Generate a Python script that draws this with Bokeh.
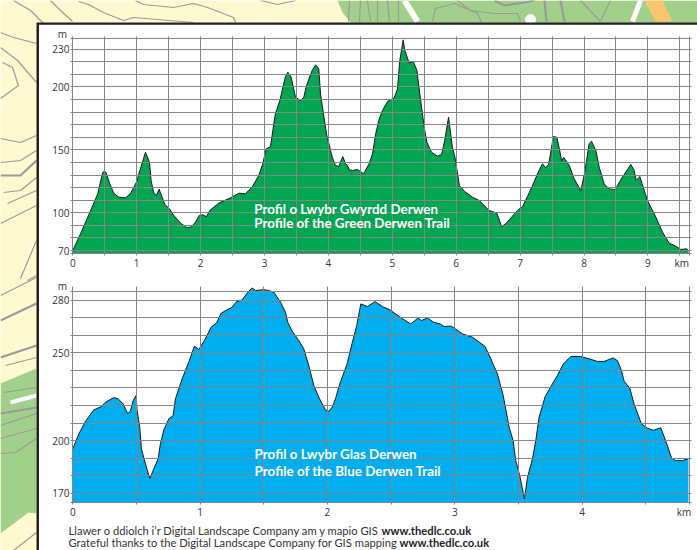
from bokeh.plotting import figure
from bokeh.layouts import column
from bokeh.models import Range1d, FixedTicker, Label
from bokeh.core.properties import value
from bokeh.embed import file_html
from bokeh.resources import INLINE

# ---- data: green trail profile
green_km = [0,.12,.235,.39,.45,.475,.516,.58,.64,.72,.824,.90,.996,1.05,1.137,1.2,1.225,1.268,1.31,1.35,1.388,1.44,1.513,1.58,1.685,1.78,1.85,1.92,1.98,2.04,2.09,2.144,2.285,2.467,2.6,2.70,2.806,2.91,2.973,3.026,3.093,3.17,3.24,3.328,3.365,3.417,3.485,3.563,3.615,3.657,3.745,3.80,3.85,3.876,3.97,4.06,4.11,4.163,4.225,4.267,4.30,4.324,4.376,4.455,4.55,4.637,4.69,4.74,4.795,4.846,4.925,5.03,5.08,5.117,5.17,5.196,5.264,5.33,5.385,5.437,5.5,5.54,5.613,5.707,5.77,5.82,5.88,5.94,5.98,6.05,6.125,6.255,6.36,6.515,6.635,6.71,6.775,6.96,7.04,7.17,7.3,7.35,7.4,7.445,7.48,7.52,7.575,7.62,7.65,7.68,7.77,7.845,7.95,8.012,8.08,8.117,8.185,8.238,8.315,8.393,8.487,8.6,8.733,8.785,8.816,8.873,8.993,9.124,9.228,9.333,9.437,9.515,9.61,9.636]
green_m = [70.1,83.3,96.6,115,128.3,132.5,132.5,123,115.6,112.4,111.9,115,124.3,133.6,148.1,140.2,125.7,115.6,113.8,118.8,113.8,106.6,103.2,97.9,91.8,88.4,88.6,92.6,97.9,98.4,96.8,101.9,107.7,111.9,115.6,115.1,120.4,129.6,138.9,150.8,152.6,178.6,189.2,208.2,211.6,207.7,191.8,189.2,191.8,201,213,217.5,214.3,194.4,162.7,144.2,137.6,136.8,144.7,138.9,137.6,134.1,133.6,134.4,131,138.9,146.8,162.7,174.6,181.2,188.4,191.3,198.4,220.9,237.3,228.8,219,220.1,213,191.8,168,156.1,148.1,145,146.3,157.4,175.9,152.1,144.2,121.7,117.2,112.4,109.8,101.9,99.7,89.2,91.3,101.9,105,119,134.1,138.9,135.7,138.4,148.1,160.6,160,149.5,141,144.2,137.6,127,117.7,132.3,154.8,156.9,149.5,136.2,123,119,118.5,128.3,138.4,133.6,125.7,128.8,109.8,96.6,84.7,75.9,73.5,70.9,71.4,69.6]
green_yticks = [70,100,150,200,230]
green_xticks = [0,1,2,3,4,5,6,7,8,9]
green_title = ["Profil o Lwybr Gwyrdd Derwen","Profile of the Green Derwen Trail"]

# ---- data: blue trail profile
blue_km = [0,.047,.1,.165,.225,.257,.322,.356,.395,.432,.453,.474,.497,.505,.526,.539,.571,.605,.636,.67,.688,.715,.754,.788,.806,.859,.911,.955,.99,1.034,1.086,1.128,1.165,1.212,1.251,1.283,1.33,1.382,1.408,1.435,1.5,1.539,1.579,1.631,1.67,1.688,1.723,1.775,1.814,1.853,1.893,1.932,1.984,2.01,2.037,2.063,2.097,2.154,2.196,2.23,2.262,2.314,2.374,2.432,2.49,2.589,2.654,2.712,2.738,2.785,2.833,2.885,2.916,2.974,3.06,3.139,3.236,3.283,3.335,3.38,3.427,3.458,3.479,3.513,3.547,3.571,3.61,3.636,3.662,3.71,3.759,3.806,3.853,3.91,3.989,4.055,4.12,4.172,4.243,4.277,4.309,4.33,4.374,4.408,4.466,4.513,4.56,4.618,4.665,4.702,4.736,4.788,4.835]
blue_m = [195.3,203.8,211,217.5,219.4,221.9,224.5,223.8,220.9,215.2,217.1,222.8,225.7,217.1,207.6,195.3,186.7,178.2,183.9,189.6,198.1,206.1,212.4,214.3,223.8,235.2,244.7,253.8,251.9,257,264.6,266.9,272.6,274.5,276,279,280.2,285.1,287,285.5,286,285.5,284.6,278.9,273.2,267.5,262.3,257,252.3,242.8,231.4,224.7,217.5,216.6,219,223.8,232.3,243.7,256.1,265.6,277.9,276.4,279.2,276.4,274.5,269.4,266.5,269.9,268.4,269.9,267.5,266.5,265,265.2,260.8,258.9,253.8,246.6,238,225.7,207.6,200,188.6,179.1,166.8,179.1,189.6,200,213.3,225.1,231.4,237.1,243.7,247.9,247.9,246.6,245.1,245.1,247.1,245.6,239.9,233.8,230,220.9,209.5,207.1,205.9,207.3,198.1,190.2,188.6,188.6,189.8]
blue_yticks = [170,200,250,280]
blue_xticks = [0,1,2,3,4]
blue_title = ["Profil o Lwybr Glas Derwen","Profile of the Blue Derwen Trail"]

note_lines = ["Llawer o ddiolch i\u2019r Digital Landscape Company am y mapio GIS ",
              "Grateful thanks to the Digital Landscape Company for GIS mapping "]
note_link = "www.thedlc.co.uk"

# ---- background map (decorative, page pixels)
CREAM, MAPGREEN, CONTOUR = "#FFF9CF", "#A0D08A", "#9a9a9a"
thin = [
 [(13,0),(30,10),(43,23)], [(50,0),(60,10),(72,21)],
 [(78,1),(88,4),(103,12),(123,20),(133,17),(157,19),(193,22)],
 [(135,0),(143,4),(173,7),(193,3),(207,7),(233,17),(235,22)],
 [(260,0),(277,4),(295,0)],
 [(0,32),(13,37),(36,43)], [(0,47),(17,60),(36,82)], [(2,62),(12,67),(18,85),(0,98)],
 [(0,138),(20,142),(36,135)], [(0,162),(20,160),(36,150)], [(3,192),(20,190),(36,177)],
 [(7,203),(36,190)], [(0,223),(36,205)], [(20,278),(36,240)], [(27,280),(36,275)],
 [(0,295),(36,277)], [(5,365),(36,357)], [(3,392),(36,387)], [(0,425),(36,413)],
 [(0,438),(36,428)], [(0,453),(15,452),(36,438)], [(13,550),(36,532)],
 [(349,0),(348,21)], [(360,0),(359,21)], [(367,0),(370,21)], [(377,0),(377,21)], [(387,0),(389,21)], [(398,0),(398,21)],
 [(432,21),(435,8),(454,3),(477,13),(481,22)],
 [(457,0),(470,10),(494,13),(517,13),(520,21)],
 [(580,0),(600,21)], [(600,21),(610,0)],
]
thick = [
 [(0,175),(20,175),(36,160)], [(0,320),(36,303)], [(0,357),(36,345)], [(0,413),(36,407)],
 [(494,0),(504,5),(524,2),(534,0)], [(544,0),(546,21)], [(560,0),(564,21)],
]
green_zones = [
 [(337,0),(697,0),(697,23),(351,23),(342,12)],
 [(0,383),(36,368),(36,513),(28,512),(0,533)],
]

W, H = 697, 550
LABEL = "#333333"
bg = figure(width=W, height=H, x_range=Range1d(0, 697), y_range=Range1d(550, 0), min_border=0,
            toolbar_location=None, output_backend="svg", background_fill_color=CREAM,
            border_fill_color=None, outline_line_color=None, frame_align=False)
bg.axis.visible = False
bg.grid.visible = False
bg.patches([[p[0] for p in z] for z in green_zones], [[p[1] for p in z] for z in green_zones],
           fill_color=MAPGREEN, line_color=None)
bg.multi_line([[p[0] for p in l] for l in thin], [[p[1] for p in l] for l in thin], line_color=CONTOUR, line_width=1.2)
bg.multi_line([[p[0] for p in l] for l in thick], [[p[1] for p in l] for l in thick], line_color=CONTOUR, line_width=2.2)
bg.patch([644,662,672,655], [0,0,21,21], fill_color="#FBC46F", line_color=None)
bg.line([404,417], [0,21], line_color="white", line_width=6)
bg.line([640,632], [0,21], line_color="white", line_width=5)
bg.line([10,36], [402,395], line_color="white", line_width=4)
bg.scatter([530], [19], size=10, color="white")
bg.quad(left=[36], right=[700], top=[22], bottom=[560], fill_color="#222222", line_color=None)
bg.quad(left=[38.5], right=[700], top=[24.3], bottom=[560], fill_color="white", line_color=None)

NOTE_FONT = "Lato"
for y, txt, xl, in zip([530, 542], note_lines, [381, 399]):
    bg.text([68], [y], text=[txt], text_font=value(NOTE_FONT), text_font_size="11.2px",
            text_color="#333333", text_baseline="middle")
    bg.text([xl], [y], text=[note_link], text_font=value(NOTE_FONT), text_font_size="11.2px",
            text_font_style="bold", text_color="#222222", text_baseline="middle")
bg.text([62, 62], [33, 285], text=["m", "m"], text_font=value("Open Sans"), text_font_size="10px",
        text_color=LABEL, text_align="center", text_baseline="middle")

GRID = "#858585"

def chart(km, m, color, xr, yr, base, xedge, yedge, xticks, kmx, yticks, half, title, tx, ty, height, btop, bbot, mtop):
    p = figure(width=W, height=height, x_range=Range1d(*xr), y_range=Range1d(*yr),
               min_border_left=70, min_border_right=6, min_border_top=btop, min_border_bottom=bbot,
               toolbar_location=None, output_backend="svg", background_fill_color=None,
               border_fill_color=None, outline_line_color=None, margin=(mtop, 0, 0, 0), frame_align=False)
    p.varea(km, y1=[base]*len(km), y2=m, fill_color=color)
    p.line(km, m, line_color="#1a1a1a", line_width=1)
    for ax, ticks in ((p.xaxis[0], xticks + [kmx]), (p.yaxis[0], yticks)):
        ax.ticker = FixedTicker(ticks=ticks)
        ax.axis_line_color = None
        ax.major_tick_line_color = None
        ax.minor_tick_line_color = None
        ax.major_tick_out = 0
        ax.major_tick_in = 0
        ax.minor_tick_out = 0
        ax.major_label_text_font = "Open Sans"
        ax.major_label_text_font_size = "10px"
        ax.major_label_text_color = LABEL
    p.xaxis[0].major_label_overrides = {kmx: "km"}
    p.xaxis[0].major_label_standoff = 0
    p.yaxis[0].major_label_standoff = 1
    p.xgrid.ticker = FixedTicker(ticks=half + [xedge])
    p.xgrid.bounds = (base, yedge)
    p.ygrid.ticker = FixedTicker(ticks=[base] + list(range(yticks[0], yticks[-1] + 1, 10)) + [yedge])
    p.ygrid.bounds = (0, xedge)
    for g in (p.xgrid, p.ygrid):
        g.grid_line_color = GRID
        g.grid_line_width = 1
        g.level = "guide"
    for t, x, y in zip(title, tx, ty):
        p.add_layout(Label(x=x, y=y, text=t, text_color="white", text_font="Lato", text_font_style="bold",
                           text_font_size="13.4px", text_baseline="middle"))
    return p

c1 = chart(green_km, green_m, "#00A651", (-0.036, 9.682), (66.1, 240.0), 67.7, 9.646, 238.1,
           green_xticks, 9.53, green_yticks, [i * 0.5 for i in range(20)], green_title,
           [2.84, 2.84], [102.8, 91.7], 255, 11, 25, -525)
c2 = chart(blue_km, blue_m, "#00AEEF", (-0.018, 4.859), (163.6, 287.8), 164.9, 4.842, 285.1,
           blue_xticks, 4.80, blue_yticks, [i * 0.5 for i in range(10)], blue_title,
           [1.428, 1.428], [192.3, 182.5], 258, 14, 26, -8)

page = column(bg, c1, c2)
open("out.html", "w").write(file_html(page, INLINE))
